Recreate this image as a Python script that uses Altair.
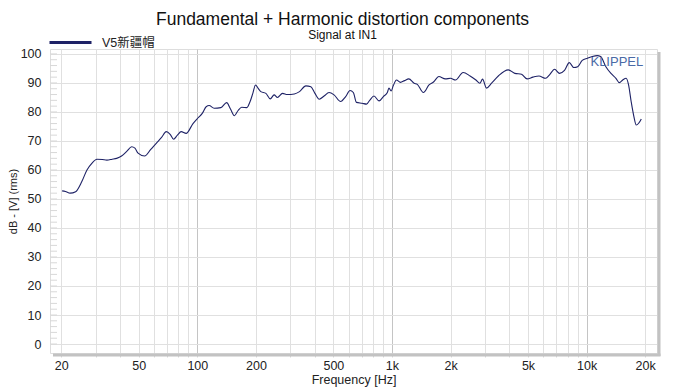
import altair as alt
import pandas as pd

# ---- data ----
series_name = "V5新疆帽"
freq = [20.2, 21.0, 22.2, 23.7, 25.5, 27.1, 28.7, 30.5, 32.5, 34.3, 36.5, 38.5, 40.8, 43.5, 46.0,
        47.8, 49.6, 53.6, 57.5, 61.5, 65.5, 69.2, 72.5, 75.5, 79.0, 82.6, 87.6, 95.0, 101, 106,
        111, 115, 122, 132, 141.5, 148, 155, 162, 169, 179.6, 186.5, 193, 199, 205, 212,
        225, 237, 248, 258, 274, 290, 315, 335, 361, 383, 402, 423, 448, 475, 504,
        545, 578, 609, 633, 657, 703, 740, 770, 808, 859, 903, 947, 965, 990, 1015,
        1055, 1105, 1160, 1220, 1300, 1350, 1450, 1550, 1640, 1740, 1880, 2000, 2120, 2320, 2520,
        2700, 2830, 2920, 3060, 3250, 3520, 3960, 4280, 4630, 4950, 5300, 5690, 6160, 6450, 6850,
        7260, 7700, 8150, 8600, 9000, 9500, 10100, 10700, 11350, 11800, 12560, 13340, 14150, 14740,
        15330, 15970, 16430, 16940, 17500, 18000, 18510, 19100]
level = [52.8, 52.6, 52.0, 52.5, 56.0, 60.0, 62.3, 63.7, 63.6, 63.4, 63.7, 64.0, 64.8, 66.5, 68.0,
         67.5, 65.8, 64.8, 67.0, 69.2, 71.2, 73.2, 72.3, 70.6, 72.0, 73.2, 72.6, 76.0, 78.0, 79.5,
         81.8, 82.2, 81.3, 81.5, 83.2, 81.0, 78.7, 80.5, 81.6, 81.5, 83.5, 86.5, 89.3, 88.2, 87.0,
         86.4, 84.5, 85.9, 85.0, 86.4, 86.0, 86.2, 87.0, 89.0, 88.7, 86.4, 84.4, 85.5, 86.7, 85.9,
         83.6, 85.3, 87.4, 86.7, 83.3, 83.0, 82.7, 84.1, 85.5, 83.8, 85.3, 86.7, 88.2, 87.2, 89.0,
         91.0, 90.2, 90.8, 91.4, 89.9, 89.5, 86.7, 89.3, 90.4, 92.2, 91.4, 91.6, 91.0, 93.6, 92.4,
         91.0, 89.9, 91.3, 88.2, 89.9, 92.4, 94.5, 93.3, 93.0, 91.4, 92.0, 92.4, 91.6, 92.8, 94.7,
         93.3, 94.3, 97.0, 95.3, 95.6, 97.8, 98.5, 99.1, 99.4, 99.1, 95.6, 93.3, 91.6, 90.1,
         91.0, 91.6, 89.3, 83.6, 78.4, 75.5, 76.1, 77.6]

grid_freqs = [20, 30, 40, 50, 60, 70, 80, 90,
              100, 200, 300, 400, 500, 600, 700, 800, 900,
              1000, 2000, 3000, 4000, 5000, 6000, 7000, 8000, 9000,
              10000, 20000]
label_freqs = [20, 50, 100, 200, 500, 1000, 2000, 5000, 10000, 20000]
label_texts = ["20", "50", "100", "200", "500", "1k", "2k", "5k", "10k", "20k"]
y_ticks = [0, 10, 20, 30, 40, 50, 60, 70, 80, 90, 100]
y_minor = list(range(0, 101, 2))
watermark = {"f": [14300], "db": [97.1], "text": ["KLIPPEL"]}

W, H = 607, 304
FONT = "Liberation Sans, Arial, 'Noto Sans CJK SC', sans-serif"

df = pd.DataFrame({"f": freq, "db": level, "series": series_name})

label_map = "{" + ",".join(f"'{v}':'{t}'" for v, t in zip(label_freqs, label_texts)) + "}"
label_expr = f"({label_map})[''+datum.value] || ''"

xscale = alt.Scale(type="log", domain=[17.5, 23000], nice=False)
yscale = alt.Scale(domain=[-3.1, 101.7], nice=False, zero=False)

x_axis = alt.Axis(values=grid_freqs, labelExpr=label_expr, labelOverlap=False,
                  grid=True,
                  gridColor={"condition": {"test": "datum.value==100 || datum.value==1000 || datum.value==10000",
                                           "value": "#c4c4c4"}, "value": "#e0e0e0"},
                  gridWidth=1, tickSize=4, tickColor="#d6d6d6", domain=False,
                  labelFont=FONT, labelFontSize=12.5, labelColor="#222", labelPadding=2,
                  title="Frequency [Hz]", titleFont=FONT, titleFontSize=12.5,
                  titleFontWeight="normal", titleColor="#222", titlePadding=2)
y_axis = alt.Axis(values=y_ticks, grid=True, gridColor="#e0e0e0", ticks=False, domain=False,
                  labelOverlap=False,
                  labelFont=FONT, labelFontSize=12.5, labelColor="#222", labelPadding=9,
                  title="dB - [V] (rms)", titleFont=FONT, titleFontSize=11,
                  titleFontWeight="normal", titleColor="#222", titlePadding=2)

line = alt.Chart(df).mark_line(strokeWidth=1.1, interpolate="monotone").encode(
    x=alt.X("f:Q", scale=xscale, axis=x_axis),
    y=alt.Y("db:Q", scale=yscale, axis=y_axis),
    color=alt.Color("series:N", scale=alt.Scale(domain=[series_name], range=["#1e2266"]),
                    legend=alt.Legend(orient="none", legendX=-2, legendY=-29, title=None,
                                      symbolType="stroke", symbolSize=1764, symbolStrokeWidth=3,
                                      labelFont=FONT, labelFontSize=12.5, labelColor="#222",
                                      labelOffset=9, padding=0)),
)

minor = alt.Chart(pd.DataFrame({"v": y_minor})).mark_rule(color="#d8d8d8", strokeWidth=1).encode(
    y=alt.Y("v:Q", scale=yscale, axis=y_axis), x=alt.value(0), x2=alt.value(7)
)

wm = alt.Chart(pd.DataFrame(watermark)).mark_text(
    font=FONT, fontSize=13, color="#4a6aa6", align="center", baseline="middle"
).encode(x=alt.X("f:Q", scale=xscale, axis=x_axis), y=alt.Y("db:Q", scale=yscale, axis=y_axis),
         text="text:N")

shadow_r = alt.Chart(pd.DataFrame({"k": [0]})).mark_rule(color="#c2c2c2", strokeWidth=3).encode(
    x=alt.value(W + 2), y=alt.value(3), y2=alt.value(H + 3))
shadow_b = alt.Chart(pd.DataFrame({"k": [0]})).mark_rule(color="#c2c2c2", strokeWidth=3).encode(
    y=alt.value(H + 2), x=alt.value(3), x2=alt.value(W + 3.5))

chart = alt.layer(line, minor, wm, shadow_r, shadow_b).properties(
    width=W, height=H,
    title=alt.TitleParams(text="Fundamental + Harmonic distortion components",
                          subtitle="Signal at IN1", font=FONT, subtitleFont=FONT,
                          fontSize=17.5, subtitleFontSize=12, fontWeight="normal",
                          color="#111", subtitleColor="#111", anchor="middle",
                          frame="group", dx=-11, offset=-21, subtitlePadding=2),
    autosize=alt.AutoSizeParams(type="none"),
    padding={"left": 42, "top": 41, "right": 19, "bottom": 37},
).configure_view(stroke="#d2d2d2", strokeWidth=1).configure(background="white")

chart.save("out.html", embed_options={"renderer": "svg", "actions": False})
